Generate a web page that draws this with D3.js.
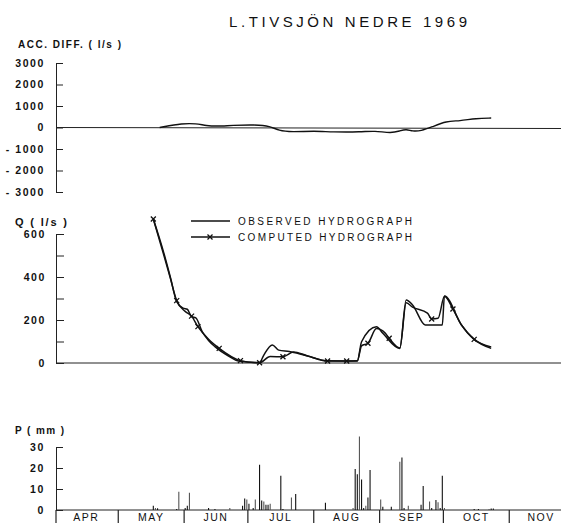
<!DOCTYPE html>
<html>
<head>
<meta charset="utf-8">
<script src="https://cdn.jsdelivr.net/npm/d3@7"></script>
<style>
  body { margin: 0; background: #fff; }
  svg { display: block; }
  .lbl { font-family: "Liberation Sans", Arial, sans-serif; font-weight: bold; fill: #111; }
  .axis text { font-family: "Liberation Sans", Arial, sans-serif; font-weight: bold; font-size: 10.5px; fill: #111; letter-spacing: 1.6px; }
  .axis path, .axis line { stroke: #222; stroke-width: 1; }
</style>
</head>
<body>
<div id="chart"></div>
<script>
var WIDTH = 561, HEIGHT = 523;

// month labels on the bottom strip
var months = ["APR", "MAY", "JUN", "JUL", "AUG", "SEP", "OCT", "NOV"];

// accumulated difference (l/s)
var accTicks = [3000, 2000, 1000, 0, -1000, -2000, -3000];
var accDates = ["05-20", "05-31", "06-06", "06-11", "06-16", "06-23", "07-04", "07-11", "07-15", "07-21",
                "08-01", "08-09", "08-23", "08-29", "09-06", "09-10", "09-13", "09-16", "09-20", "09-25",
                "10-02", "10-08", "10-16", "10-23"];
var accValues = [0, 195, 180, 85, 55, 100, 130, 70, -150, -210,
                 -160, -210, -210, -150, -270, -160, -70, -180, -160, 20,
                 300, 300, 430, 440];

// discharge Q (l/s)
var qTicks = [0, 100, 200, 300, 400, 500, 600];
var obsDates = ["05-17", "05-22", "05-25", "05-28", "05-31", "06-02", "06-04", "06-06", "06-09", "06-12",
                "06-15", "06-22", "06-26", "07-06", "07-08", "07-12", "07-15", "07-20", "07-25", "07-31",
                "08-06", "08-21", "08-23", "08-30", "09-02", "09-10", "09-13", "09-16", "09-22", "09-30",
                "10-01", "10-09", "10-15", "10-23"];
var obsValues = [670, 510, 400, 285, 255, 250, 215, 210, 146, 105,
                 76, 29, 9, 2, 37, 84, 60, 53, 42, 26,
                 11, 9, 99, 169, 138, 68, 293, 270, 177, 177,
                 312, 177, 110, 75];

var compDates = ["05-17", "05-22", "05-25", "05-28", "06-01", "06-04", "06-07", "06-12", "06-17", "06-27",
                 "07-06", "07-11", "07-17", "07-22", "07-28", "08-07", "08-16", "08-21", "08-23", "08-26",
                 "08-30", "09-03", "09-05", "09-10", "09-13", "09-16", "09-23", "09-25", "09-28", "10-01",
                 "10-05", "10-09", "10-15", "10-23"];
var compValues = [670, 500, 395, 290, 240, 218, 169, 110, 68, 11,
                  1, 30, 29, 51, 35, 9, 9, 10, 80, 92,
                  160, 140, 115, 70, 280, 260, 232, 205, 208, 310,
                  251, 177, 110, 68];
var compMarked = [1, 0, 0, 1, 0, 1, 1, 0, 1, 1,
                  1, 0, 1, 0, 0, 1, 1, 0, 0, 1,
                  0, 0, 1, 0, 0, 0, 0, 1, 0, 0,
                  1, 0, 1, 0];

// precipitation P (mm)
var pTicks = [0, 10, 20, 30];
var precipDates = ["05-17", "05-18", "05-19", "05-28", "05-29", "06-01", "06-02", "06-03", "06-12", "06-15",
                   "06-22", "06-28", "06-29", "06-30", "07-01", "07-03", "07-04", "07-06", "07-07", "07-08",
                   "07-09", "07-10", "07-11", "07-16", "07-17", "07-21", "07-23", "08-06", "08-19", "08-20",
                   "08-21", "08-22", "08-23", "08-24", "08-25", "08-26", "08-27", "09-01", "09-02", "09-06",
                   "09-10", "09-11", "09-12", "09-14", "09-20", "09-21", "09-24", "09-25", "09-27", "09-28",
                   "09-29", "09-30", "10-01", "10-15", "10-17", "10-22", "10-23", "10-24"];
var precipValues = [2, 1, 0.8, 0.5, 8.7, 1, 2, 8.2, 1, 0.5,
                    1, 2, 5.5, 5, 3, 1, 5, 21.5, 4.5, 4,
                    2.5, 2.5, 3, 16.3, 0.5, 6, 7.6, 3.5, 1, 19.5,
                    17, 35, 14.5, 1, 2, 6, 19, 5, 1.5, 1.5,
                    23, 25, 1, 2, 2.5, 11.4, 4, 1, 4.8, 3.7,
                    1, 16.3, 1, 0.5, 0.5, 0.5, 0.7, 0.7];

var parse = d3.timeParse("%Y-%m-%d");
function day(s) { return parse("1969-" + s); }

var svg = d3.select("#chart").append("svg")
  .attr("width", WIDTH)
  .attr("height", HEIGHT);

var xScale = d3.scaleTime()
  .domain([new Date(1969, 3, 1), new Date(1969, 11, 1)])
  .range([54.5, 573]);
function xNoon(s) { return xScale(d3.timeHour.offset(day(s), 12)); }

var axisX = 56;

// ---------- title ----------
svg.append("text")
  .attr("x", 229).attr("y", 27)
  .attr("textLength", 238).attr("lengthAdjust", "spacing")
  .style("font-family", "Liberation Sans, Arial, sans-serif")
  .style("font-size", "15px")
  .style("fill", "#111")
  .text("L.TIVSJÖN NEDRE 1969");

// ---------- top panel: accumulated difference ----------
var yAcc = d3.scaleLinear().domain([-3000, 3000]).range([192, 63]);

svg.append("text").attr("class", "lbl")
  .attr("x", 18).attr("y", 48)
  .attr("textLength", 103).attr("lengthAdjust", "spacing")
  .style("font-size", "10px")
  .text("ACC. DIFF. ( l/s )");

svg.append("g")
  .attr("class", "axis")
  .attr("transform", "translate(" + axisX + ",0)")
  .call(d3.axisLeft(yAcc).tickValues(accTicks).tickSizeInner(-7).tickSizeOuter(-7).tickPadding(11)
    .tickFormat(function(d) { return d < 0 ? "- " + Math.abs(d) : d; }));

svg.append("line")
  .attr("x1", axisX).attr("x2", WIDTH)
  .attr("y1", yAcc(0)).attr("y2", yAcc(0) + 1)
  .style("stroke", "#222").style("stroke-width", 1);

var accLine = d3.line()
  .x(function(d, i) { return xNoon(accDates[i]); })
  .y(function(d) { return yAcc(d); })
  .curve(d3.curveBasis);

svg.append("path")
  .attr("d", accLine(accValues))
  .style("fill", "none").style("stroke", "#111").style("stroke-width", 1.4);

// ---------- middle panel: hydrographs ----------
var yQ = d3.scaleLinear().domain([0, 600]).range([363, 234]);

svg.append("text").attr("class", "lbl")
  .attr("x", 15).attr("y", 226)
  .attr("textLength", 52).attr("lengthAdjust", "spacing")
  .style("font-size", "11px")
  .text("Q ( l/s )");

svg.append("g")
  .attr("class", "axis")
  .attr("transform", "translate(" + axisX + ",0)")
  .call(d3.axisLeft(yQ).tickValues(qTicks).tickSizeInner(-8).tickSizeOuter(-8).tickPadding(10)
    .tickFormat(function(d) { return d % 200 === 0 ? d : ""; }));

svg.append("line")
  .attr("x1", axisX).attr("x2", WIDTH)
  .attr("y1", yQ(0)).attr("y2", yQ(0))
  .style("stroke", "#222").style("stroke-width", 1);

var qLine = d3.line()
  .x(function(d) { return xNoon(d.date); })
  .y(function(d) { return yQ(d.value); })
  .curve(d3.curveMonotoneX);

var obs = obsDates.map(function(d, i) { return {date: d, value: obsValues[i]}; });
var comp = compDates.map(function(d, i) { return {date: d, value: compValues[i], mark: compMarked[i]}; });

svg.append("path")
  .attr("d", qLine(obs))
  .style("fill", "none").style("stroke", "#111").style("stroke-width", 1.5);

svg.append("path")
  .attr("d", qLine(comp))
  .style("fill", "none").style("stroke", "#111").style("stroke-width", 1.5);

function cross(sel, s) {
  sel.append("path")
    .attr("d", "M" + (-s) + "," + (-s) + "L" + s + "," + s + "M" + (-s) + "," + s + "L" + s + "," + (-s))
    .style("stroke", "#111").style("stroke-width", 1.3).style("fill", "none");
}

svg.append("g").selectAll("g")
  .data(comp.filter(function(d) { return d.mark; }))
  .join("g")
  .attr("transform", function(d) { return "translate(" + xNoon(d.date) + "," + yQ(d.value) + ")"; })
  .each(function() { cross(d3.select(this), 2.5); });

// legend
var legend = svg.append("g");
legend.append("line").attr("x1", 191).attr("x2", 230).attr("y1", 221).attr("y2", 221)
  .style("stroke", "#111").style("stroke-width", 1.3);
legend.append("line").attr("x1", 191).attr("x2", 230).attr("y1", 237).attr("y2", 237)
  .style("stroke", "#111").style("stroke-width", 1.3);
cross(legend.append("g").attr("transform", "translate(210,237)"), 2.5);
legend.append("text").attr("class", "lbl")
  .attr("x", 238).attr("y", 225)
  .attr("textLength", 174).attr("lengthAdjust", "spacing")
  .style("font-size", "10px").style("font-weight", "normal")
  .text("OBSERVED HYDROGRAPH");
legend.append("text").attr("class", "lbl")
  .attr("x", 238).attr("y", 241)
  .attr("textLength", 174).attr("lengthAdjust", "spacing")
  .style("font-size", "10px").style("font-weight", "normal")
  .text("COMPUTED HYDROGRAPH");

// ---------- bottom panel: precipitation ----------
var yP = d3.scaleLinear().domain([0, 30]).range([510, 447]);

svg.append("text").attr("class", "lbl")
  .attr("x", 15).attr("y", 434)
  .attr("textLength", 49).attr("lengthAdjust", "spacing")
  .style("font-size", "10px")
  .text("P ( mm )");

svg.append("g")
  .attr("class", "axis")
  .attr("transform", "translate(" + axisX + ",0)")
  .call(d3.axisLeft(yP).tickValues(pTicks).tickSizeInner(-7).tickSizeOuter(-7).tickPadding(11));

svg.append("line")
  .attr("x1", axisX).attr("x2", WIDTH)
  .attr("y1", yP(0)).attr("y2", yP(0))
  .style("stroke", "#222").style("stroke-width", 1);

svg.append("g").selectAll("line")
  .data(precipValues)
  .join("line")
  .attr("x1", function(d, i) { return xNoon(precipDates[i]); })
  .attr("x2", function(d, i) { return xNoon(precipDates[i]); })
  .attr("y1", yP(0))
  .attr("y2", function(d) { return yP(d); })
  .style("stroke", function(d, i) { return i % 3 === 1 ? "#555" : "#111"; })
  .style("stroke-width", 1.1);

// month strip
var monthStarts = d3.timeMonth.range(new Date(1969, 3, 1), new Date(1969, 11, 1));
svg.append("g").selectAll("line")
  .data(monthStarts)
  .join("line")
  .attr("x1", function(d, i) { return i === 0 ? axisX : xScale(d); })
  .attr("x2", function(d, i) { return i === 0 ? axisX : xScale(d); })
  .attr("y1", yP(0)).attr("y2", HEIGHT)
  .style("stroke", "#222").style("stroke-width", 1.2);

svg.append("g").selectAll("text")
  .data(months)
  .join("text")
  .attr("x", function(d, i) { return (xScale(monthStarts[i]) + xScale(d3.timeMonth.offset(monthStarts[i], 1))) / 2; })
  .attr("y", 521)
  .attr("text-anchor", "middle")
  .style("font-family", "Liberation Sans, Arial, sans-serif")
  .style("font-size", "10.5px")
  .style("letter-spacing", "1.5px")
  .style("fill", "#111")
  .text(function(d) { return d; });
</script>
</body>
</html>
